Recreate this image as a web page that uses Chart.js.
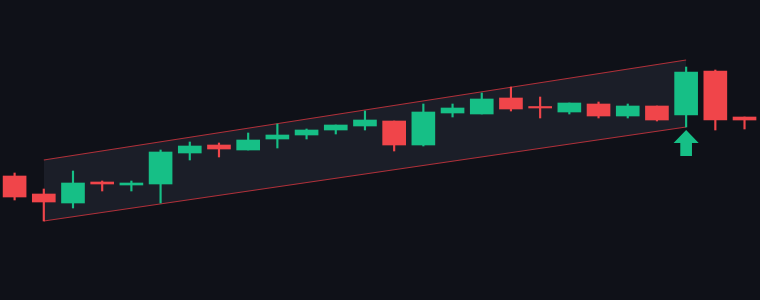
<!DOCTYPE html>
<html>
<head>
<meta charset="utf-8">
<script src="https://cdn.jsdelivr.net/npm/chart.js@4"></script>
<style>
    html, body { margin: 0; padding: 0; background: #0f1118; }
    #wrap { width: 760px; height: 300px; }
</style>
</head>
<body>
<div id="wrap"><canvas id="chart"></canvas></div>
<script>
// Candle data (one entry per bar)
const opens  = [112.4, 110.6, 109.7, 111.8, 111.5, 111.6, 114.7, 115.5, 115.0, 116.1, 116.5, 117.0, 117.4,
                117.9, 115.5, 118.7, 118.6, 120.2, 119.3, 118.8, 119.6, 118.4, 119.4, 118.5, 122.9, 118.3];
const highs  = [112.7, 111.1, 112.9, 111.9, 111.9, 115.0, 115.8, 115.7, 116.7, 117.6, 117.1, 117.5, 118.9,
                117.9, 119.6, 119.6, 120.7, 121.3, 120.3, 119.7, 119.8, 119.6, 119.4, 123.3, 123.0, 118.3];
const lows   = [110.0, 107.9, 109.2, 110.9, 110.9, 109.7, 114.0, 114.3, 115.0, 115.2, 116.1, 116.6, 117.0,
                114.9, 115.4, 118.3, 118.6, 118.9, 118.2, 118.6, 118.2, 118.2, 117.9, 117.3, 117.0, 117.1];
const closes = [110.3, 109.8, 111.7, 111.6, 111.7, 114.8, 115.4, 115.1, 116.0, 116.5, 117.0, 117.5, 118.0,
                115.5, 118.8, 119.2, 120.1, 119.1, 119.2, 119.7, 118.4, 119.4, 118.0, 122.8, 118.0, 118.0];

// Channel (start bar / end bar)
const channelX      = [1, 23];
const channelTop    = [114.0, 124.0];
const channelBottom = [107.9, 117.3];

// Buy signal arrow under bar 23 (outline in bar / price units)
const arrowX = [23, 23.43, 23.2, 23.2, 22.8, 22.8, 22.57, 23];
const arrowY = [117.0, 115.7, 115.7, 114.4, 114.4, 115.7, 115.7, 117.0];

const UP = '#16bf86';
const DOWN = '#f0454a';

const idx = opens.map((_, i) => i);
const colors = idx.map(i => closes[i] >= opens[i] ? UP : DOWN);

new Chart(document.getElementById('chart'), {
    type: 'bar',
    data: {
        datasets: [
            {
                type: 'line',
                data: channelX.map((x, i) => ({ x: x, y: channelTop[i] })),
                borderColor: '#b0313a',
                borderWidth: 1.2,
                pointRadius: 0,
                order: 10
            },
            {
                type: 'line',
                data: channelX.map((x, i) => ({ x: x, y: channelBottom[i] })),
                borderColor: '#b0313a',
                borderWidth: 1.2,
                pointRadius: 0,
                fill: '-1',
                backgroundColor: '#1b1e28',
                order: 10
            },
            {
                // wicks
                data: idx.map(i => ({ x: i, y: [lows[i], highs[i]] })),
                backgroundColor: colors,
                barThickness: 1.5,
                grouped: false,
                order: 5
            },
            {
                // bodies
                data: idx.map(i => ({ x: i, y: [opens[i], closes[i]] })),
                backgroundColor: colors,
                barThickness: 23,
                minBarLength: 1.5,
                grouped: false,
                order: 4
            },
            {
                type: 'line',
                data: arrowX.map((x, i) => ({ x: x, y: arrowY[i] })),
                borderWidth: 0,
                borderColor: UP,
                backgroundColor: UP,
                pointRadius: 0,
                tension: 0,
                fill: 'shape',
                order: 1
            }
        ]
    },
    options: {
        responsive: true,
        maintainAspectRatio: false,
        animation: false,
        layout: { padding: 0 },
        plugins: {
            legend: { display: false },
            tooltip: { enabled: false }
        },
        scales: {
            x: { type: 'linear', min: -0.5, max: 25.53, offset: false, display: false },
            y: { min: 100, max: 130, display: false }
        }
    }
});
</script>
</body>
</html>
